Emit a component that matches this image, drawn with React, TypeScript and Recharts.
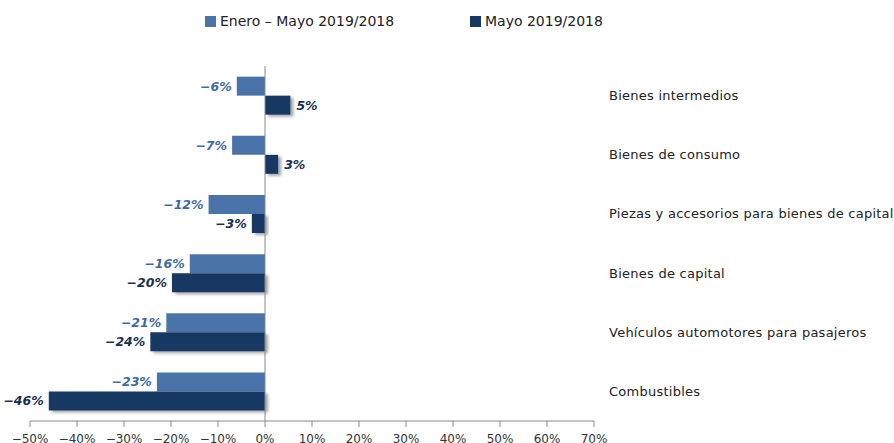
import React from "react";
import {
  BarChart,
  Bar,
  XAxis,
  YAxis,
  Legend,
  ReferenceLine,
  LabelList,
} from "recharts";

const categories = [
  "Bienes intermedios",
  "Bienes de consumo",
  "Piezas y accesorios para bienes de capital",
  "Bienes de capital",
  "Vehículos automotores para pasajeros",
  "Combustibles",
];
const eneroMayo = [-6, -7, -12, -16, -21, -23];
const mayo = [5.4, 2.8, -2.8, -19.8, -24.4, -46];
const xTicks = [-50, -40, -30, -20, -10, 0, 10, 20, 30, 40, 50, 60, 70];

const LIGHT = "#4a74a9";
const DARK = "#183762";

const data = categories.map((name, i) => ({
  name,
  eneroMayo: eneroMayo[i],
  mayo: mayo[i],
}));

const fmt = (v: number) => (v < 0 ? "\u2212" : "") + Math.abs(Math.round(v)) + "%";

const makeLabel = (color: string) => (props: any) => {
  const { x, y, width, height, value } = props;
  const left = Math.min(x, x + width);
  const right = Math.max(x, x + width);
  const neg = value < 0;
  return (
    <text
      x={neg ? left - 5 : right + 6}
      y={y + height / 2}
      dy="0.35em"
      textAnchor={neg ? "end" : "start"}
      fill={color}
      fontSize={12.5}
      fontWeight="bold"
      fontStyle="italic"
      fontFamily="DejaVu Sans"
    >
      {fmt(value)}
    </text>
  );
};

const LegendContent = () => (
  <div
    style={{
      display: "flex",
      fontFamily: "DejaVu Sans",
      fontSize: 14,
      color: "#222",
      paddingLeft: 205,
      alignItems: "center",
    }}
  >
    <span style={{ width: 11, height: 11, background: LIGHT, marginRight: 4 }} />
    <span style={{ width: 250 }}>Enero – Mayo 2019/2018</span>
    <span style={{ width: 11, height: 11, background: DARK, marginRight: 4 }} />
    <span>Mayo 2019/2018</span>
  </div>
);

const CatTick = (props: any) => {
  const { x, y, payload } = props;
  return (
    <text
      x={x}
      y={y}
      dy="0.35em"
      textAnchor="start"
      fill="#222"
      fontSize={13}
      letterSpacing={0.25}
      fontFamily="DejaVu Sans"
    >
      {payload.value}
    </text>
  );
};

export default function App() {
  return (
    <div style={{ position: "absolute", left: 0, top: 0 }}>
      <BarChart
        width={894}
        height={443}
        data={data}
        layout="vertical"
        margin={{ top: 66, right: 0, bottom: 0, left: 30 }}
        barCategoryGap="18%"
        barGap={0}
      >
        <defs>
          <filter id="barShadow" x="-20%" y="-20%" width="150%" height="160%">
            <feDropShadow dx="3" dy="2" stdDeviation="1.5" floodColor="#000" floodOpacity="0.35" />
          </filter>
        </defs>
        <XAxis
          type="number"
          domain={[-50, 70]}
          ticks={xTicks}
          tickFormatter={(v: number) => fmt(v)}
          stroke="#8a8a8a"
          tick={{ fill: "#333", fontSize: 12, fontFamily: "DejaVu Sans" }}
          tickSize={6}
          tickMargin={7}
          height={22}
          interval={0}
        />
        <YAxis
          type="category"
          dataKey="name"
          orientation="right"
          width={300}
          axisLine={false}
          tickLine={false}
          tickSize={0}
          tickMargin={15}
          tick={<CatTick />}
          interval={0}
        />
        <ReferenceLine x={0} stroke="#8a8a8a" />
        <Legend
          verticalAlign="middle"
          wrapperStyle={{ top: 13, left: 0, width: 894 }}
          content={<LegendContent />}
        />
        <Bar
          dataKey="eneroMayo"
          fill={LIGHT}
          isAnimationActive={false}
        >
          <LabelList dataKey="eneroMayo" content={makeLabel("#3c6aa3")} />
        </Bar>
        <Bar
          dataKey="mayo"
          fill={DARK}
          filter="url(#barShadow)"
          isAnimationActive={false}
        >
          <LabelList dataKey="mayo" content={makeLabel("#162f52")} />
        </Bar>
      </BarChart>
    </div>
  );
}
